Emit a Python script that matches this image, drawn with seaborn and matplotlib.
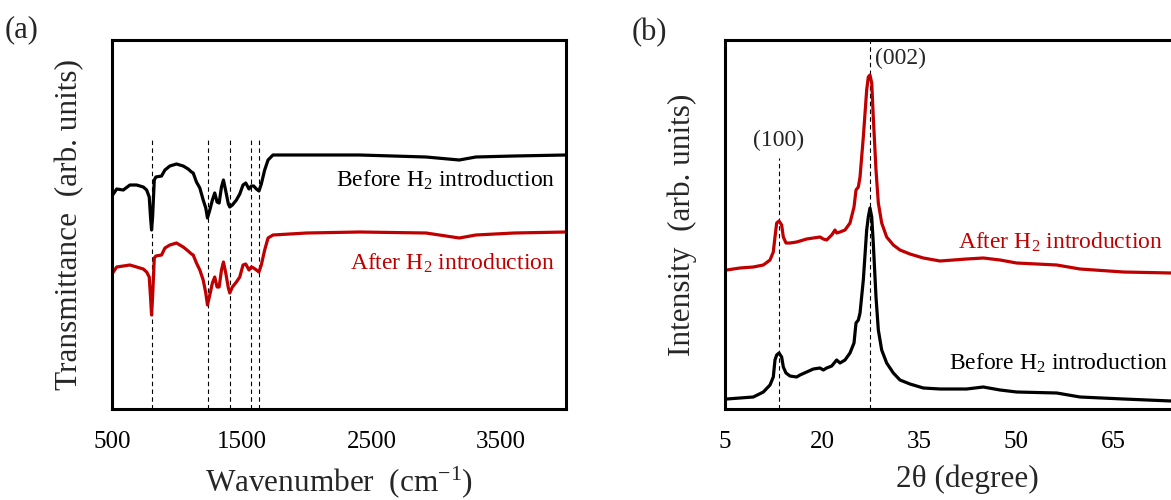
import numpy as np
import pandas as pd
import matplotlib
matplotlib.use("Agg")
import matplotlib.pyplot as plt
import seaborn as sns

# ---------------- data: FTIR (panel a) ----------------
ftir_wn = [505, 536, 587, 638, 690, 741, 767, 787, 797, 805, 813, 826, 838, 882, 908,
           946, 997, 1049, 1087, 1113, 1126, 1151, 1177, 1203, 1223, 1236, 1254, 1274,
           1292, 1310, 1326, 1344, 1359, 1377, 1397, 1408, 1428, 1459, 1485, 1510, 1531,
           1556, 1574, 1592, 1613, 1633, 1651, 1677, 1703, 1741, 2000, 2408, 2921, 3177,
           3305, 3600, 4000]
ftir_before = [214, 220, 219, 224, 224, 222, 219, 212, 192, 179, 192, 229, 232, 233, 239,
               243, 245, 243, 240, 237, 236, 227, 221, 209, 201, 191, 199, 209,
               216, 207, 206, 222, 229, 218, 205, 202, 204, 209, 215, 224, 226,
               220, 223, 223, 220, 218, 225, 239, 249, 254, 254, 254, 252, 249,
               252, 253, 254]
ftir_after = [136, 142, 143, 144, 142, 140, 137, 132, 112, 94, 112, 151, 153, 154, 161,
              164, 166, 162, 158, 155, 154, 146, 139, 129, 116, 104, 114, 126,
              132, 122, 122, 139, 147, 136, 121, 116, 122, 127, 132, 144, 145,
              139, 142, 141, 139, 137, 144, 159, 171, 174, 176, 177, 176, 171,
              174, 176, 177]
ftir_marks = [805, 1238, 1410, 1570, 1637]

# ---------------- data: XRD (panel b) ----------------
xrd_tt = [5.26, 7.32, 9.38, 10.93, 11.96, 12.47, 12.73, 12.99, 13.35, 13.76, 14.02,
          14.43, 15.05, 16.08, 16.6, 17.63, 18.66, 19.69, 20.2, 20.72, 21.5, 22.01,
          22.27, 22.78, 23.56, 24.33, 24.95, 25.26, 25.62, 25.88, 26.39, 26.91, 27.16,
          27.42, 27.69, 27.93, 28.35, 28.71, 29.23, 30.0, 31.03, 32.06, 33.6, 35.67,
          38.25, 42.37, 44.94, 47.53, 50.1, 56.3, 59.9, 66.6, 74.0, 80.0]
xrd_before = [10, 11, 12, 17, 24, 32, 49, 54, 56, 52, 42,
              36, 33, 32, 34, 37, 40, 41, 39, 41, 43, 47,
              49, 46, 49, 56, 66, 86, 89, 96, 129, 179, 192,
              201, 192, 166, 112, 79, 59, 46, 36, 29, 25, 21,
              20, 20, 22, 19, 17, 16, 12, 10, 8, 8]
xrd_after = [139, 141, 142, 144, 149, 157, 172, 186, 188, 184, 172,
             166, 166, 167, 168, 170, 171, 172, 170, 169, 174, 179,
             176, 177, 179, 186, 202, 219, 222, 232, 272, 319, 332,
             334, 326, 292, 239, 206, 186, 172, 164, 159, 155, 151,
             148, 150, 151, 149, 146, 144, 140, 137, 136, 136]
xrd_marks = [13.35, 27.42]
xrd_mark_tops = [251, 369]

ftir_ticks = [500, 1500, 2500, 3500]
xrd_ticks = [5, 20, 35, 50, 65]

RED = "#C00000"
BLACK = "#000000"

sns.set_style("white")
plt.rcParams["font.family"] = ["Liberation Serif", "DejaVu Serif"]
plt.rcParams["mathtext.fontset"] = "custom"
plt.rcParams["mathtext.rm"] = "Liberation Serif"
plt.rcParams["mathtext.it"] = "Liberation Serif:italic"
plt.rcParams["mathtext.bf"] = "Liberation Serif:bold"

fig = plt.figure(figsize=(11.71, 5.0), dpi=100)
H = 500.0
W = 1171.0
bot = (H - 409) / H
top = (H - 40) / H
axA = fig.add_axes([112 / W, bot, (566 - 112) / W, top - bot])
axB = fig.add_axes([725 / W, bot, (1210 - 725) / W, top - bot])

lw = 2.3
dfA = pd.DataFrame({"wn": ftir_wn, "before": ftir_before, "after": ftir_after})
sns.lineplot(data=dfA, x="wn", y="before", ax=axA, color=BLACK, lw=lw, sort=False)
sns.lineplot(data=dfA, x="wn", y="after", ax=axA, color=RED, lw=lw, sort=False)
for m in ftir_marks:
    axA.plot([m, m], [0, 272], color="black", lw=0.8, ls=(0, (4, 3)), zorder=1)
axA.set_xlim(500, 4000)
axA.set_ylim(0, 369)
axA.set_xticks(ftir_ticks)
axA.set_yticks([])
axA.text(3915, 229, "Before H$_2$ introduction", color=BLACK, fontsize=17,
         ha="right", va="center")
axA.text(3915, 146, "After H$_2$ introduction", color=RED, fontsize=17,
         ha="right", va="center")
axA.set_xlabel("Wavenumber  (cm$^{-1}$)", fontsize=22.5, labelpad=8)
axA.set_ylabel("Transmittance  (arb. units)", fontsize=22.5, labelpad=20)

dfB = pd.DataFrame({"tt": xrd_tt, "before": xrd_before, "after": xrd_after})
sns.lineplot(data=dfB, x="tt", y="before", ax=axB, color=BLACK, lw=lw, sort=False)
sns.lineplot(data=dfB, x="tt", y="after", ax=axB, color=RED, lw=lw, sort=False)
for m, t in zip(xrd_marks, xrd_mark_tops):
    axB.plot([m, m], [0, t], color="black", lw=0.8, ls=(0, (4, 3)), zorder=1)
axB.set_xlim(5, 80)
axB.set_ylim(0, 369)
axB.set_xticks(xrd_ticks)
axB.set_yticks([])
axB.text(13.35, 269, "(100)", fontsize=17, ha="center", va="center")
axB.text(28.2, 351, "(002)", fontsize=17, ha="left", va="center")
axB.text(72.7, 167, "After H$_2$ introduction", color=RED, fontsize=17,
         ha="right", va="center")
axB.text(73.5, 46, "Before H$_2$ introduction", color=BLACK, fontsize=17,
         ha="right", va="center")
axB.set_xlabel("2θ (degree)", fontsize=22.5, labelpad=8)
axB.set_ylabel("Intensity  (arb. units)", fontsize=22.5, labelpad=20)

for ax in (axA, axB):
    for s in ax.spines.values():
        s.set_visible(True)
        s.set_linewidth(2.2)
        s.set_color("black")
    ax.tick_params(axis="x", direction="in", length=6, width=1.5,
                   labelsize=18, pad=16, colors="black")
    ax.grid(False)

fig.text(5 / W, 1 - 30 / H, "(a)", fontsize=22, ha="left", va="center")
fig.text(632 / W, 1 - 33 / H, "(b)", fontsize=22, ha="left", va="center")

fig.savefig("out.png", dpi=100)
